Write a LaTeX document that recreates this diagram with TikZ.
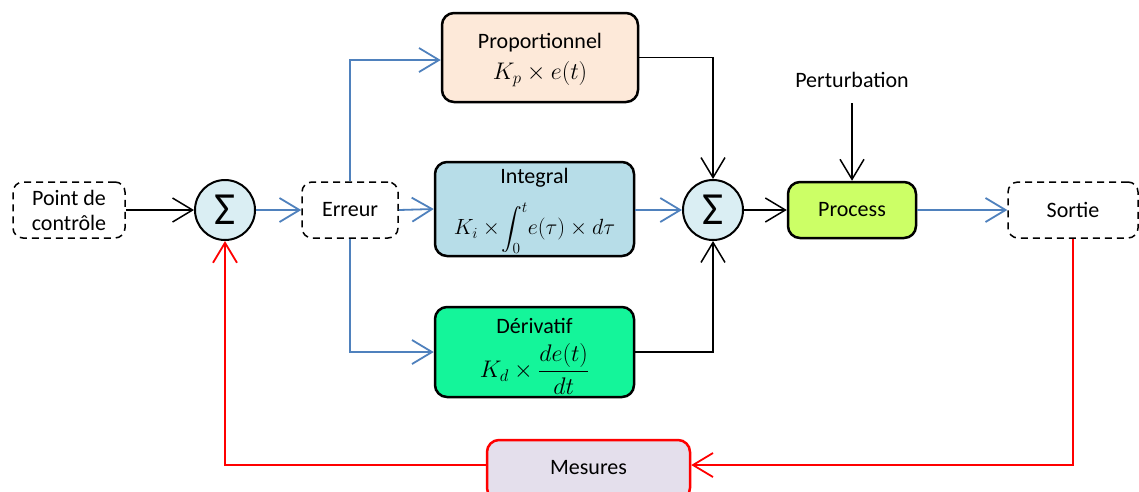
\RequirePackage{fix-cm}
\documentclass[tikz,border=0pt]{standalone}
\usepackage{fontspec}
\setmainfont{Carlito}
\usepackage{amsmath}
\usetikzlibrary{arrows.meta}
\definecolor{lblue}{HTML}{4F81BD}
\definecolor{pfill}{HTML}{FDE9D9}
\definecolor{ifill}{HTML}{B7DDE8}
\definecolor{dfill}{HTML}{14F59A}
\definecolor{prfill}{HTML}{CCFF66}
\definecolor{sfill}{HTML}{DAEEF3}
\definecolor{mfill}{HTML}{E4DFEC}
\tikzset{
  box/.style={draw=black, line width=2.5pt, rounded corners=12pt, align=center, inner sep=0pt},
  dbox/.style={draw=black, line width=1.5pt, dashed, dash pattern=on 7pt off 5pt, rounded corners=10pt, align=center, inner sep=0pt},
  sumc/.style={draw=black, line width=2pt, circle, fill=sfill, minimum size=60pt, inner sep=0pt, font=\fontsize{46}{46}\selectfont},
  tip/.style={-{Straight Barb[length=20pt,width=24pt]}},
  bl/.style={draw=black, line width=1.5pt, tip},
  bu/.style={draw=lblue, line width=1.8pt, tip},
  rd/.style={draw=red, line width=1.8pt, tip},
  txt/.style={inner sep=0pt},
}
\begin{document}
\begin{tikzpicture}[x=1pt,y=-1pt, font=\fontsize{22}{25}\selectfont]
\useasboundingbox (0,0) rectangle (1139,491);
\fill[white] (0,0) rectangle (1139,491);
\node[dbox, minimum width=112pt, minimum height=56pt] (pc) at (69,210) {Point de\\contrôle};
\node[sumc] (s1) at (225,210) {\raisebox{-2pt}{Σ}};
\node[dbox, minimum width=96pt, minimum height=56pt] (err) at (350,210) {Erreur};
\node[box, fill=pfill, minimum width=196pt, minimum height=89pt] (prop) at (540,57.5) {};
\node[txt] (propt) at (540,43) {Proportionnel};
\node[txt, font=\fontsize{24}{26}\selectfont] (propf) at (540,74) {$K_p\times e(t)$};
\node[box, fill=ifill, minimum width=199pt, minimum height=94pt] (int) at (534.5,209) {};
\node[txt] (intt) at (534.5,178) {Integral};
\node[txt, font=\fontsize{22}{24}\selectfont] (intf) at (534.5,228) {$\displaystyle K_i\times\!\int_0^t\! e(\tau)\times d\tau$};
\node[box, fill=dfill, minimum width=199pt, minimum height=90pt] (der) at (534.5,352) {};
\node[txt] (dert) at (534.5,326) {Dérivatif};
\node[txt, font=\fontsize{24}{26}\selectfont] (derf) at (534.5,369) {$\displaystyle K_d\times\frac{de(t)}{dt}$};
\node[sumc] (s2) at (713,210) {\raisebox{-2pt}{Σ}};
\node[box, fill=prfill, minimum width=128pt, minimum height=56pt] (proc) at (852,210) {Process};
\node (pert) at (852,80) {Perturbation};
\node[draw=red, line width=2.5pt, rounded corners=12pt, fill=mfill, minimum width=203pt, minimum height=60pt, inner sep=0pt] (mes) at (588.5,470) {};
\node (mest) at (588.5,468) {Mesures};
\node[dbox, minimum width=130pt, minimum height=56pt] (sor) at (1073,210) {Sortie};
\coordinate (pertstart) at (852,103);
\draw[bl] (pc.east) -- (s1.west);
\draw[bu] (s1.east) -- (err.west);
\draw[bu] (err.north) |- (prop.west |- 0,60);
\draw[bu] (err.east) -- (int.west);
\draw[bu] (err.south) |- (der.west);
\draw[bl] (prop.east) -| (s2.north);
\draw[bu] (int.east |- s2.west) -- (s2.west);
\draw[bl] (der.east) -| (s2.south);
\draw[bl] (s2.east) -- (proc.west);
\draw[bl] (pertstart) -- (proc.north);
\draw[bu] (proc.east) -- (sor.west);
\draw[rd] (sor.south) |- (mes.east |- 0,465);
\draw[rd] (mes.west |- 0,465) -| (s1.south);
\end{tikzpicture}
\end{document}
